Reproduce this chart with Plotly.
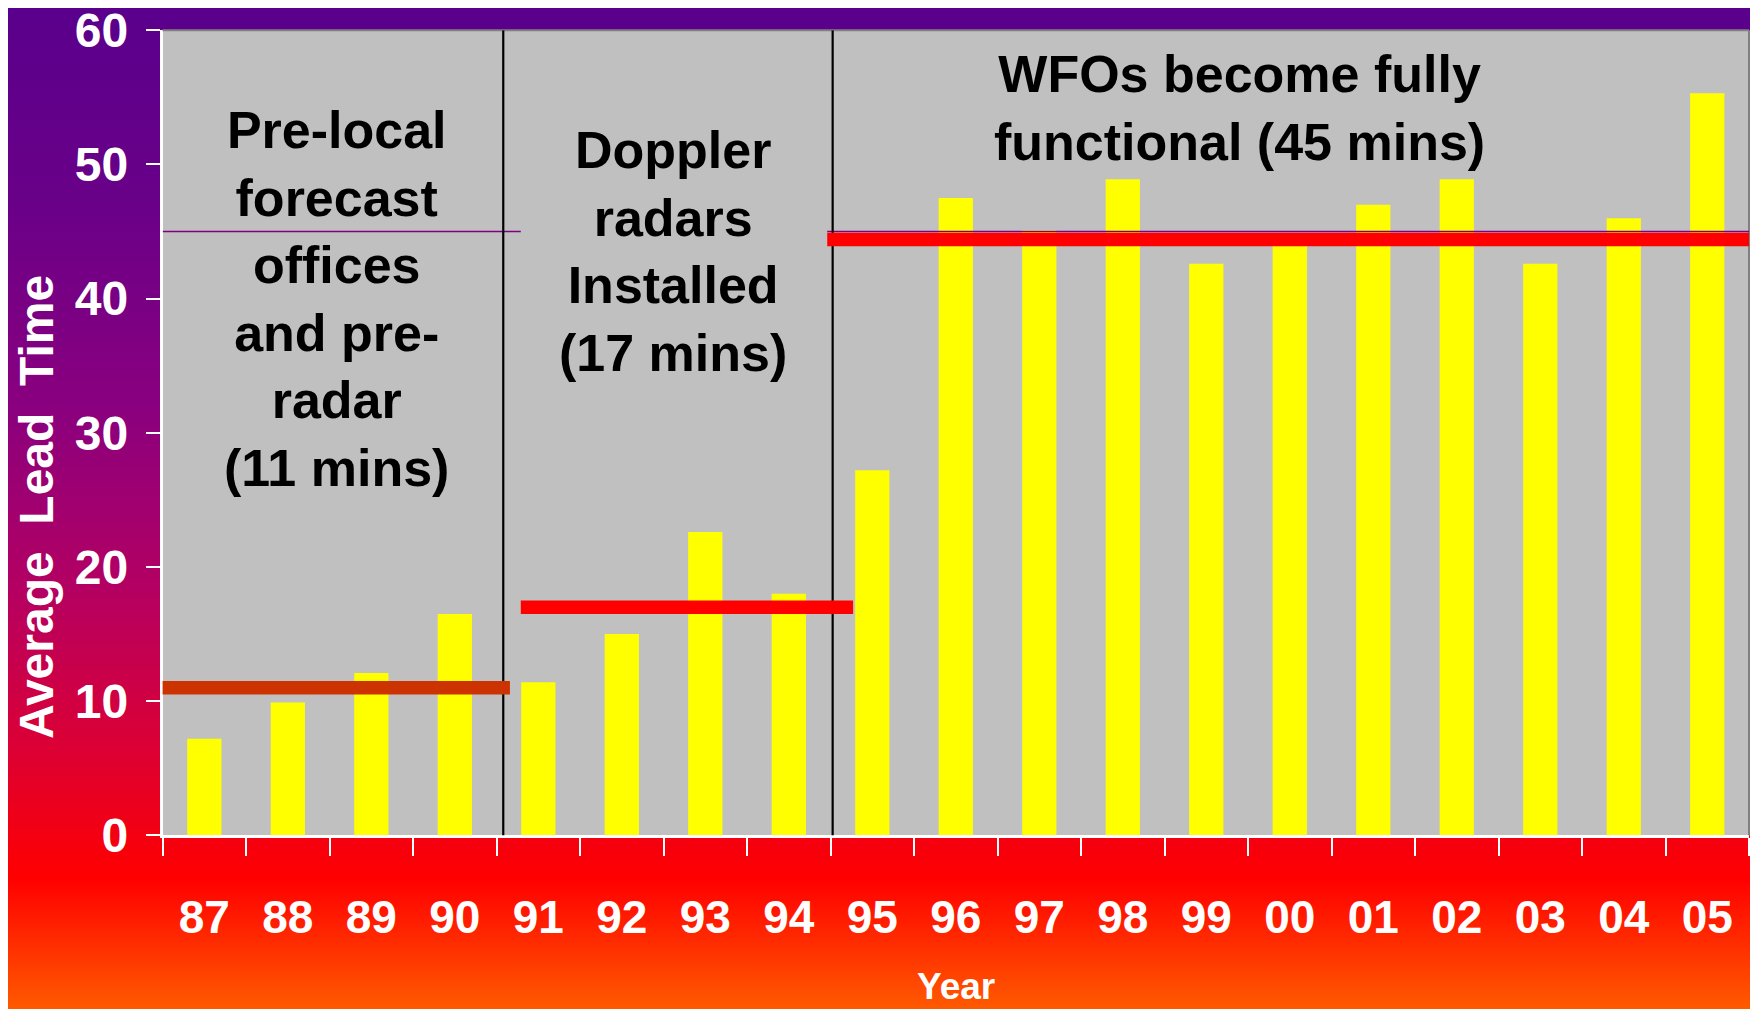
import base64
import plotly.graph_objects as go

# ---------------- data ----------------
years = ["87", "88", "89", "90", "91", "92", "93", "94", "95", "96",
         "97", "98", "99", "00", "01", "02", "03", "04", "05"]
lead_time = [7.2, 9.9, 12.1, 16.5, 11.4, 15.0, 22.6, 18.0, 27.2, 47.5,
             45.1, 48.9, 42.6, 44.2, 47.0, 48.9, 42.6, 46.0, 55.3]

period_first = ["87", "91", "95"]
period_last = ["90", "94", "05"]
period_avg = [11.0, 17.0, 44.4]
period_text = [
    "Pre-local<br>forecast<br>offices<br>and pre-<br>radar<br>(11 mins)",
    "Doppler<br>radars<br>Installed<br>(17 mins)",
    "WFOs become fully<br>functional (45 mins)",
]
target_minutes = 45

y_ticks = [0, 10, 20, 30, 40, 50, 60]

# ---------------- style ----------------
# the page has an 8px body margin, so the figure is sized to the visible window area
OFF = 8
W, H = 1758 - OFF, 1009 - OFF
FONT = "Liberation Sans"
avg_colors = ["#CC3300", "#FF0000", "#FF0000"]
avg_pad_start = [-0.07, 0.29, -0.04]
avg_pad_end = [0.16, 0.27, 0.10]
divider_shift = [0.08, 0.025]
text_x_shift = [0.08, 0.11, -0.60]   # relative to period centre
text_y = [40.0, 43.5, 54.2]

plot_left, plot_right = 162.6 - OFF, 1749 - OFF
plot_top, plot_bottom = 30.3 - OFF, 835.3 - OFF

grad_stops = [(0.00, "#5A008C"), (0.20, "#6A0088"), (0.40, "#8A007E"),
              (0.58, "#B40062"), (0.74, "#DC0034"), (0.87, "#FF0000"),
              (1.00, "#FF5A00")]
stops = "".join(f'<stop offset="{o}" stop-color="{c}"/>' for o, c in grad_stops)
svg = ('<svg xmlns="http://www.w3.org/2000/svg" width="100" height="100" '
       'viewBox="0 0 100 100" preserveAspectRatio="none"><defs>'
       '<linearGradient id="g" x1="0" y1="0" x2="0" y2="1">' + stops +
       '</linearGradient></defs><rect x="0" y="0" width="100" height="100" '
       'fill="url(#g)"/></svg>')
svg_uri = "data:image/svg+xml;base64," + base64.b64encode(svg.encode()).decode()

idx = {y: i for i, y in enumerate(years)}

fig = go.Figure()
fig.add_trace(go.Bar(x=years, y=lead_time, marker=dict(color="#FFFF00", line=dict(width=0)),
                     hoverinfo="x+y"))

shapes = []
# plot-area background (above the gradient image)
shapes.append(dict(type="rect", xref="x domain", yref="y domain", x0=0, x1=1, y0=0, y1=1,
                   fillcolor="#C0C0C0", line=dict(width=0), layer="below"))
# top / right border
shapes.append(dict(type="line", xref="x domain", yref="y domain", x0=0, x1=1, y0=1, y1=1,
                   line=dict(color="#808080", width=2)))
shapes.append(dict(type="line", xref="x domain", yref="y domain", x0=1, x1=1, y0=0, y1=1,
                   line=dict(color="#808080", width=2)))

# target (45 min) thin line segments
shapes.append(dict(type="line", xref="x", yref="y",
                   x0=idx[period_first[0]] - 0.5,
                   x1=idx[period_first[1]] - 0.5 + avg_pad_start[1],
                   y0=target_minutes, y1=target_minutes, line=dict(color="#800080", width=1.5)))
shapes.append(dict(type="line", xref="x", yref="y",
                   x0=idx[period_first[2]] - 0.5 + avg_pad_start[2],
                   x1=idx[period_last[2]] + 0.5,
                   y0=target_minutes, y1=target_minutes, line=dict(color="#800080", width=1.5)))

# period dividers
for k in range(2):
    xb = idx[period_last[k]] + 0.5 + divider_shift[k]
    shapes.append(dict(type="line", xref="x", yref="y", x0=xb, x1=xb, y0=-0.4, y1=60,
                       line=dict(color="#000000", width=2.2)))

# period averages
for k in range(3):
    shapes.append(dict(type="line", xref="x", yref="y",
                       x0=idx[period_first[k]] - 0.5 + avg_pad_start[k],
                       x1=idx[period_last[k]] + 0.5 + avg_pad_end[k],
                       y0=period_avg[k], y1=period_avg[k],
                       line=dict(color=avg_colors[k], width=13.5)))

annotations = []
for k in range(3):
    cx = (idx[period_first[k]] + idx[period_last[k]]) / 2 + text_x_shift[k]
    annotations.append(dict(x=cx, y=text_y[k], xref="x", yref="y", text=period_text[k],
                            showarrow=False, xanchor="center", yanchor="middle",
                            font=dict(family=FONT, size=52, color="#000000", weight="bold")))
annotations.append(dict(x=(len(years) - 1) / 2, y=1 - (986 - OFF) / H, xref="x", yref="paper",
                        text="Year", showarrow=False, xanchor="center", yanchor="middle",
                        font=dict(family=FONT, size=37, color="#FFFFFF", weight="bold")))
annotations.append(dict(x=(36 - OFF) / W, y=1 - (507 - OFF) / H, xref="paper", yref="paper",
                        text="Average\u00a0 Lead\u00a0 Time", textangle=-90, showarrow=False,
                        xanchor="center", yanchor="middle",
                        font=dict(family=FONT, size=48, color="#FFFFFF", weight="bold")))

fig.update_layout(
    width=W, height=H,
    margin=dict(l=0, r=0, t=0, b=0, autoexpand=False),
    paper_bgcolor="#FF0000",
    plot_bgcolor="rgba(0,0,0,0)",
    showlegend=False,
    bargap=0.59,
    shapes=shapes,
    annotations=annotations,
    images=[dict(source=svg_uri, xref="paper", yref="paper", x=0, y=1, sizex=1, sizey=1,
                 xanchor="left", yanchor="top", sizing="stretch", layer="below")],
    xaxis=dict(domain=[plot_left / W, plot_right / W], type="category",
               range=[-0.5, len(years) - 0.5], automargin=False, ticklabeloverflow="allow",
               showgrid=False, zeroline=False, showline=True, linecolor="#FFFFFF", linewidth=2.5,
               ticks="outside", tickson="boundaries", ticklen=18, tickwidth=2, tickcolor="#FFFFFF",
               ticklabelstandoff=40,
               tickfont=dict(family=FONT, size=46, color="#FFFFFF", weight="bold")),
    yaxis=dict(domain=[1 - plot_bottom / H, 1 - plot_top / H], range=[0, 60], tickvals=y_ticks,
               automargin=False, ticklabeloverflow="allow",
               showgrid=False, zeroline=False, showline=True, linecolor="#FFFFFF", linewidth=2.5,
               ticks="outside", ticklen=14, tickwidth=2, tickcolor="#FFFFFF",
               ticklabelstandoff=8,
               tickfont=dict(family=FONT, size=48, color="#FFFFFF", weight="bold")),
)

fig.write_html("out.html")
